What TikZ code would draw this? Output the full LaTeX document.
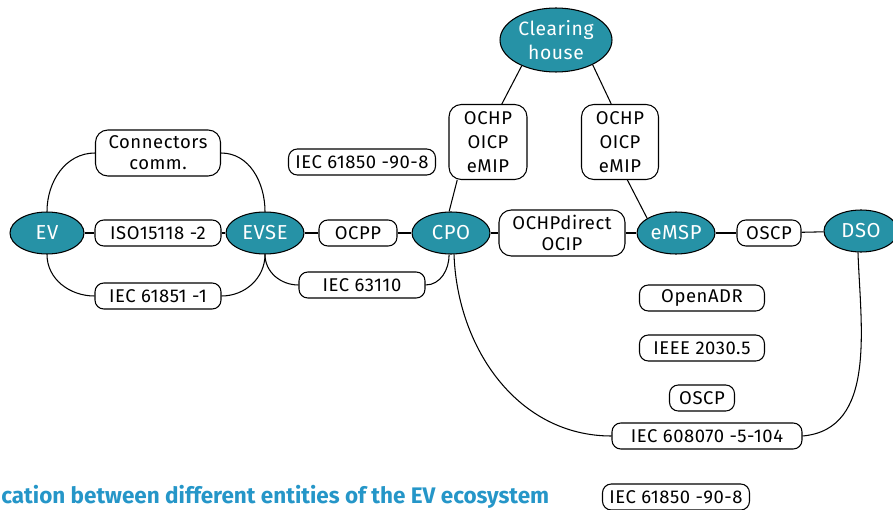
\documentclass[tikz,border=0pt]{standalone}
\usepackage{fontspec}
\setmainfont[LetterSpace=3]{Fira Sans}
\newfontfamily\capfont{Fira Sans}
\usetikzlibrary{shapes.geometric}
\definecolor{entity}{HTML}{2692A6}
\definecolor{captionblue}{HTML}{2596C8}

\begin{document}
\begin{tikzpicture}[x=0.02cm, y=-0.02cm,
      actor/.style={ellipse, draw, line width=0.6pt, fill=entity, text=white, font=\fontsize{11.5}{12}\selectfont, inner sep=0pt, minimum width=15.6mm, minimum height=8.4mm, align=center},
      proto/.style={draw, line width=0.6pt, rounded corners=5pt, fill=white, align=center, font=\fontsize{10.5}{12}\selectfont, inner sep=0pt, minimum height=5.2mm},
      link/.style={line width=0.6pt}]
    \useasboundingbox (0,0) rectangle (893,510);
    % entities
    \node[actor, minimum width=14.8mm] (ev) at (47,233) {EV};
    \node[actor] (evse) at (265,233) {EVSE};
    \node[actor] (cpo) at (451,233) {CPO};
    \node[actor] (emsp) at (676,233) {eMSP};
    \node[actor, minimum width=14.8mm] (dso) at (861,231) {DSO};
    \node[actor, minimum width=22.4mm, minimum height=12.8mm, font=\fontsize{11}{13.5}\selectfont] (clh) at (556,40) {Clearing\\house};
    % protocols
    \node[proto, minimum width=25mm, minimum height=9.2mm, rounded corners=7pt] (conn) at (158,153) {Connectors\\comm.};
    \node[proto, minimum width=25.2mm] (iso) at (158,233) {ISO15118 -2};
    \node[proto, minimum width=25.2mm] (iec61851) at (158,296) {IEC 61851 -1};
    \node[proto, minimum width=29.4mm] (iec61850a) at (362,162) {IEC 61850 -90-8};
    \node[proto, minimum width=15.6mm] (ocpp) at (358,233) {OCPP};
    \node[proto, minimum width=25.2mm] (iec63110) at (362,285) {IEC 63110};
    \node[proto, minimum width=15.6mm, minimum height=15mm, rounded corners=7pt, font=\fontsize{10.5}{13.5}\selectfont] (ochpl) at (488,142) {OCHP\\OICP\\eMIP};
    \node[proto, minimum width=15.4mm, minimum height=15mm, rounded corners=7pt, font=\fontsize{10.5}{13.5}\selectfont] (ochpr) at (620,142) {OCHP\\OICP\\eMIP};
    \node[proto, minimum width=25.2mm, minimum height=9.2mm, rounded corners=7pt] (direct) at (562,233) {OCHPdirect\\OCIP};
    \node[proto, minimum width=12.8mm] (oscpa) at (769,233) {OSCP};
    \node[proto, minimum width=25mm] (openadr) at (702,298) {OpenADR};
    \node[proto, minimum width=25mm] (ieee) at (702,348) {IEEE 2030.5};
    \node[proto, minimum width=13mm] (oscpb) at (702,398) {OSCP};
    \node[proto, minimum width=38mm] (iec608070) at (707,436) {IEC 608070 -5-104};
    \node[proto, minimum width=29.4mm] (iec61850b) at (676,497) {IEC 61850 -90-8};
    % caption, cut at the left edge
    \node[anchor=west, inner sep=0pt, text=captionblue, font=\capfont\bfseries\fontsize{12.8}{14}\selectfont] (capt) at (1,497) {cation between different entities of the EV ecosystem};
    % links
    \draw[link] (ev) -- (iso);  \draw[link] (iso) -- (evse);
    \draw[link] (ev.north) to[out=90, in=180] (conn.west);  \draw[link] (conn.east) to[out=0, in=90] (evse.north);
    \draw[link] (ev.south) to[out=-90, in=180] (iec61851.west);  \draw[link] (iec61851.east) to[out=0, in=-90] (evse.south);
    \draw[link] (evse) -- (ocpp);  \draw[link] (ocpp) -- (cpo);
    \draw[link] (evse.south) to[out=-90, in=180] (iec63110.west);  \draw[link] (iec63110.east) to[out=0, in=-90] (cpo.-95);
    \draw[link] (cpo.95) -- (ochpl.231);  \draw[link] (ochpl.70) -- (clh.217);
    \draw[link] (clh.-34) -- (ochpr.103);  \draw[link] (ochpr.-79) -- (emsp.153);
    \draw[link] (cpo) -- (direct);  \draw[link] (direct) -- (emsp);
    \draw[link] (emsp) -- (oscpa);  \draw[link] (oscpa) -- (dso);
    \draw[link] (cpo.-82) to[out=-88, in=180] (iec608070.west);
    \draw[link] (iec608070.east) to[out=5, in=-88] (dso.-98);
  \end{tikzpicture}
\end{document}
